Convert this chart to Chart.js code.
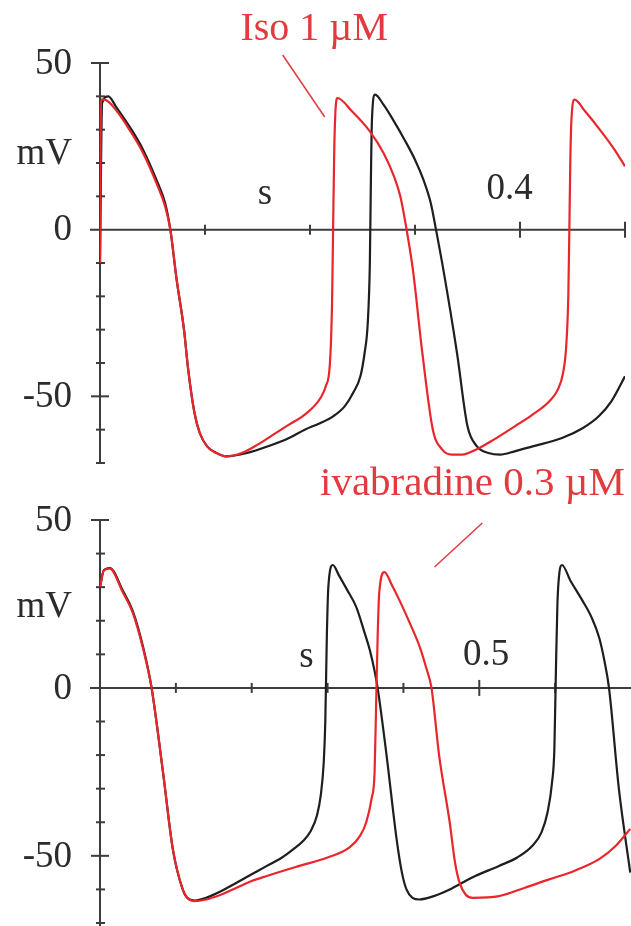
<!DOCTYPE html>
<html>
<head>
<meta charset="utf-8">
<script src="https://cdn.jsdelivr.net/npm/chart.js@4.4.1/dist/chart.umd.min.js"></script>
<style>
  html,body{margin:0;padding:0;background:#fff;}
  #wrap{position:relative;width:631px;height:926px;overflow:hidden;}
  canvas{position:absolute;left:0;}
</style>
</head>
<body>
<div id="wrap">
  <canvas id="top" width="631" height="470" style="top:0px"></canvas>
  <canvas id="bot" width="631" height="466" style="top:460px"></canvas>
</div>
<script>
// ---------- DATA (time in s, membrane potential in mV) ----------
// Top panel: control (black) vs Iso 1 µM (red)
const topBlackT = [0, 0.002, 0.008, 0.015, 0.030, 0.041, 0.055, 0.062, 0.067, 0.073, 0.080, 0.084, 0.090, 0.095, 0.102, 0.111, 0.120, 0.140, 0.160, 0.180, 0.195, 0.210, 0.222, 0.233, 0.241, 0.248, 0.252, 0.255, 0.257, 0.258, 0.259, 0.262, 0.270, 0.280, 0.290, 0.300, 0.308, 0.315, 0.320, 0.327, 0.340, 0.350, 0.359, 0.370, 0.381, 0.395, 0.412, 0.440, 0.460, 0.475, 0.487, 0.500];
const topBlackV = [-10, 38, 40, 37, 30, 24, 14, 8, 0, -15, -30, -42, -55, -61, -65, -67, -68, -67, -65, -62.5, -60, -58, -56, -53, -49, -44, -37, -28, -10, 15, 33, 40.5, 37.5, 32.5, 27, 21, 15, 8, 0, -12, -37, -59, -65, -67, -67.5, -66.5, -65, -62.5, -59.5, -56, -51.5, -44];
const topRedT = [0, 0.001, 0.004, 0.015, 0.030, 0.041, 0.055, 0.062, 0.067, 0.073, 0.080, 0.084, 0.090, 0.095, 0.102, 0.111, 0.120, 0.135, 0.150, 0.165, 0.180, 0.195, 0.210, 0.215, 0.219, 0.221, 0.222, 0.223, 0.224, 0.226, 0.240, 0.257, 0.270, 0.280, 0.286, 0.292, 0.298, 0.307, 0.317, 0.326, 0.335, 0.345, 0.358, 0.375, 0.395, 0.412, 0.428, 0.436, 0.441, 0.444, 0.446, 0.447, 0.448, 0.449, 0.452, 0.462, 0.476, 0.490, 0.500];
const topRedV = [-10, 39, 39, 36, 29, 23, 13, 7, 0, -15, -30, -42, -55, -61, -65, -67, -68, -67, -64.5, -61.5, -58.5, -55.5, -50.5, -47, -40, -22, 0, 22, 34, 39.5, 35.5, 29.5, 23, 16, 10, 0, -12, -37, -60, -66, -67.5, -67.5, -66, -63, -59, -55.5, -51.5, -48, -43, -35, -20, 0, 22, 33, 39, 35.5, 30, 24, 19];

// Bottom panel: control (black) vs ivabradine 0.3 µM (red)
const botBlackT = [0, 0.005, 0.013, 0.030, 0.043, 0.057, 0.068, 0.083, 0.096, 0.109, 0.115, 0.125, 0.140, 0.160, 0.180, 0.200, 0.220, 0.240, 0.255, 0.268, 0.278, 0.286, 0.291, 0.295, 0.297, 0.299, 0.301, 0.307, 0.315, 0.325, 0.338, 0.348, 0.356, 0.362, 0.366, 0.378, 0.391, 0.398, 0.404, 0.412, 0.421, 0.440, 0.461, 0.490, 0.526, 0.550, 0.570, 0.582, 0.590, 0.596, 0.599, 0.601, 0.603, 0.605, 0.609, 0.620, 0.636, 0.648, 0.658, 0.665, 0.671, 0.684, 0.699];
const botBlackV = [30, 35, 35.7, 29, 23, 12, 0, -25, -48, -60, -62.5, -63.3, -62.5, -60.5, -58, -55.5, -53, -50.5, -48, -45.5, -42.5, -38, -32, -22, -10, 15, 30, 36.6, 33.5, 29.5, 24, 17, 11, 5, 0, -20.5, -45, -55, -60, -62.5, -63, -62, -60, -56.5, -53, -50.5, -47, -43, -37, -28, -18, 5, 25, 33, 36.6, 32, 26, 21, 15, 8, 0, -30, -55];
const botRedT = [0, 0.005, 0.013, 0.030, 0.043, 0.057, 0.068, 0.083, 0.096, 0.109, 0.115, 0.125, 0.140, 0.160, 0.180, 0.200, 0.220, 0.263, 0.300, 0.329, 0.343, 0.351, 0.358, 0.362, 0.364, 0.366, 0.368, 0.375, 0.385, 0.395, 0.408, 0.421, 0.430, 0.437, 0.447, 0.461, 0.468, 0.474, 0.482, 0.491, 0.526, 0.560, 0.592, 0.625, 0.658, 0.680, 0.699];
const botRedV = [30, 35, 35.5, 28.5, 22.5, 11.5, 0, -25, -48, -60, -62.5, -63.5, -63, -61.5, -59.5, -57.5, -56, -53, -50.5, -47.5, -44, -40, -33, -25, -5, 15, 28, 34.5, 30.5, 26, 19.5, 12.5, 6, 0, -20, -40, -52, -58, -61.5, -62.5, -62, -59.5, -57, -54.5, -51, -47, -42];

// Axis ticks and labels
const yMinorTicks = [-70, -60, -40, -30, -20, -10, 10, 20, 30, 40];
const yMajorTicks = [50, -50];
const yTickLabels = ['50', '0', '-50'];
const yTickLabelValues = [50, 0, -50];
const topXMinorTicks = [0.1, 0.2, 0.3];
const topXMajorTicks = [0.4, 0.5];
const botXMinorTicks = [0.1, 0.2, 0.3, 0.4, 0.6];
const botXMajorTicks = [0.5];
const topTexts = ['mV', 's', '0.4', 'Iso 1 µM'];
const botTexts = ['mV', 's', '0.5', 'ivabradine 0.3 µM'];

// ---------- drawing ----------
const RED = '#e8262b';
const RED_TXT = '#e23a3e';
const BLACK = '#1e1e1e';
const AXIS = '#3c3c3c';
const TXT = '#2b2b2b';
const FONT = '"Liberation Serif", "Times New Roman", serif';

function pts(T, V){ return T.map((t,i)=>({x:t, y:V[i]})); }

const axesPlugin = {
  id: 'customAxes',
  beforeDatasetsDraw(chart, args, o) {
    const ctx = chart.ctx, xs = chart.scales.x, ys = chart.scales.y;
    const px = v => xs.getPixelForValue(v), py = v => ys.getPixelForValue(v);
    const x0 = px(0), y0 = py(0);
    ctx.save();
    ctx.strokeStyle = AXIS; ctx.lineWidth = 2; ctx.lineCap = 'butt';
    const ln = (a,b,c,d)=>{ctx.beginPath();ctx.moveTo(a,b);ctx.lineTo(c,d);ctx.stroke();};
    ln(x0, py(50), x0, py(-70) + (o.yExtend||0));
    o.yMinor.forEach(v=>ln(x0-4, py(v), x0+5, py(v)));
    o.yMajor.forEach(v=>ln(x0-9, py(v), x0+9, py(v)));
    ln(x0-10, y0, o.xEnd !== undefined ? px(o.xEnd) : chart.width, y0);
    o.xMinor.forEach(v=>ln(px(v), y0-5, px(v), y0+5));
    o.xMajor.forEach(v=>ln(px(v), y0-8, px(v), y0+8));
    ctx.restore();
  },
  afterDraw(chart, args, o) {
    const ctx = chart.ctx, xs = chart.scales.x, ys = chart.scales.y;
    const px = v => xs.getPixelForValue(v), py = v => ys.getPixelForValue(v);
    const x0 = px(0);
    ctx.save();
    ctx.fillStyle = TXT;
    ctx.font = '37px ' + FONT;
    ctx.textAlign = 'right'; ctx.textBaseline = 'middle';
    yTickLabelValues.forEach((v,i)=>ctx.fillText(yTickLabels[i], x0-28, py(v)+1));
    ctx.fillText(o.texts[0], x0-28, py(o.mvAt));
    ctx.textAlign = 'center';
    ctx.fillText(o.texts[1], px(o.sAt[0]), py(o.sAt[1]));
    ctx.fillText(o.texts[2], px(o.numAt[0]), py(o.numAt[1]));
    ctx.fillStyle = RED_TXT;
    ctx.font = o.annFont + ' ' + FONT;
    ctx.textBaseline = 'alphabetic';
    ctx.fillText(o.texts[3], px(o.annAt[0]), py(o.annAt[1]));
    ctx.strokeStyle = RED_TXT; ctx.lineWidth = 1.5;
    ctx.beginPath();
    ctx.moveTo(px(o.annLine[0]), py(o.annLine[1]));
    ctx.lineTo(px(o.annLine[2]), py(o.annLine[3]));
    ctx.stroke();
    ctx.restore();
  }
};

function makeChart(id, blackPts, redPts, xMax, padding, axOpts) {
  return new Chart(document.getElementById(id), {
    type: 'line',
    data: {
      datasets: [
        { data: redPts, borderColor: RED, borderWidth: 2.2, pointRadius: 0, cubicInterpolationMode: 'monotone', order: 0 },
        { data: blackPts, borderColor: BLACK, borderWidth: 2.2, pointRadius: 0, cubicInterpolationMode: 'monotone', order: 1 }
      ]
    },
    options: {
      responsive: false, animation: false, events: [],
      layout: { padding },
      scales: {
        x: { type: 'linear', min: 0, max: xMax, display: false },
        y: { type: 'linear', min: -70, max: 50, display: false }
      },
      plugins: { legend: {display:false}, tooltip: {enabled:false}, customAxes: axOpts }
    },
    plugins: [axesPlugin]
  });
}

makeChart('top', pts(topBlackT, topBlackV), pts(topRedT, topRedV), 0.5,
  {left:100, right:6, top:63, bottom:7},
  { yMinor: yMinorTicks, yMajor: yMajorTicks, xMinor: topXMinorTicks, xMajor: topXMajorTicks, xEnd: 0.5,
    texts: topTexts, mvAt: 22.5, sAt: [0.157, 10.5], numAt: [0.39, 12],
    annFont: '40px', annAt: [0.204, 57], annLine: [0.174, 52.4, 0.214, 33.8] });

makeChart('bot', pts(botBlackT, botBlackV), pts(botRedT, botRedV), 0.7,
  {left:100, right:0, top:60, bottom:3},
  { yMinor: yMinorTicks, yMajor: yMajorTicks, xMinor: botXMinorTicks, xMajor: botXMajorTicks, yExtend: 3,
    texts: botTexts, mvAt: 24, sAt: [0.272, 9.2], numAt: [0.509, 9.8],
    annFont: '41px', annAt: [0.491, 57.4], annLine: [0.504, 49.1, 0.441, 36] });
</script>
</body>
</html>
